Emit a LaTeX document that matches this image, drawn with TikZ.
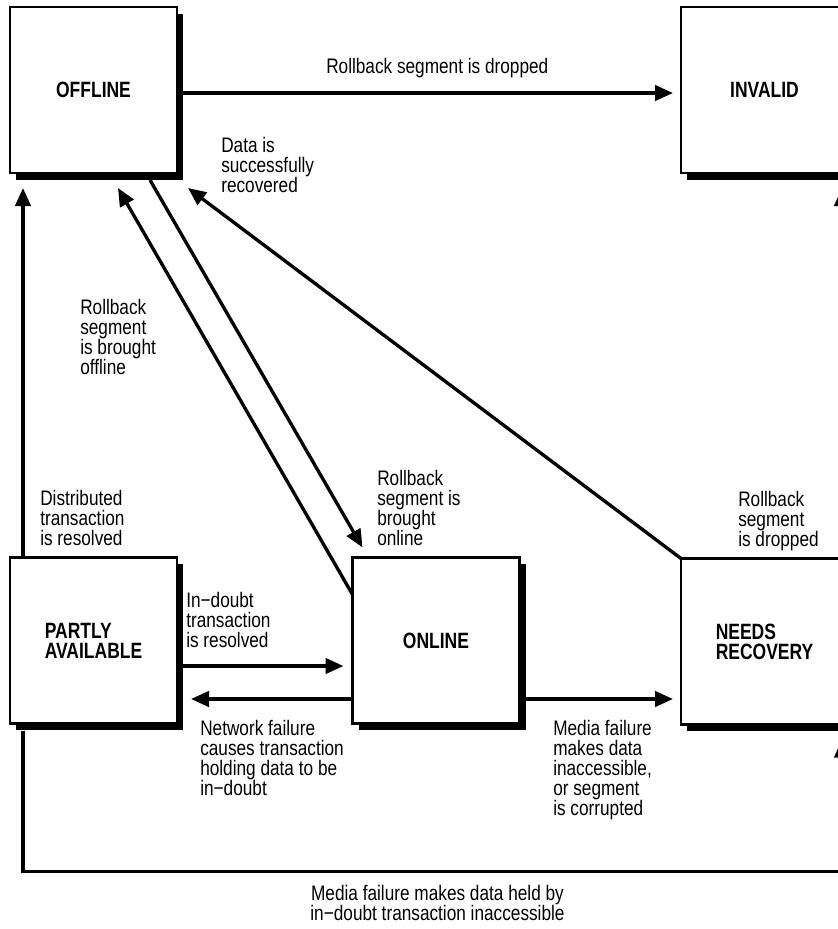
\documentclass[tikz,border=0pt]{standalone}
\usepackage{fontspec}
\setmainfont{Liberation Sans}[FakeStretch=0.82]
\newfontfamily\boxfont{Liberation Sans}[FakeStretch=0.79]
\usetikzlibrary{arrows.meta,calc,shadows}
\begin{document}
\begin{tikzpicture}[x=0.75pt,y=-0.75pt,
  statebox/.style={draw, line width=1.8pt, fill=white, outer sep=0pt,
    minimum width=125.25pt, minimum height=124.5pt, align=left,
    font=\boxfont\bfseries\fontsize{16.6pt}{15pt}\selectfont,
    general shadow={fill=black, shadow xshift=4.8pt, shadow yshift=-5.2pt}},
  lbl/.style={inner sep=0pt, anchor=north west, align=left,
    font=\fontsize{15.75pt}{15pt}\selectfont},
  arr/.style={line width=2.5pt, -{Triangle[length=13.5pt,width=11.5pt]}},
]
\useasboundingbox (0,0) rectangle (838,929);
\clip (0,0) rectangle (838,929);

% states
\node[statebox] (offline) at (93.5,90) {OFFLINE};
\node[statebox] (invalid) at (764.5,90) {INVALID};
\node[statebox] (partly) at (93.5,640.5) {PARTLY\\AVAILABLE};
\node[statebox] (online) at (436,640.5) {ONLINE};
\node[statebox] (needs) at (764.5,641.5) {NEEDS\\RECOVERY};

% transitions
\draw[arr] ($(offline.east)+(6,3)$) -- ($(invalid.west)+(-8,3)$);
\draw[arr] ($(partly.north west)+(13,0)$) -- ($(offline.south west)+(13,15)$);
\draw[arr] ($(offline.south west)+(140,7)$) -- ($(online.north west)+(10,-10)$);
\draw[arr] ($(online.north west)+(0,37)$) -- ($(offline.south west)+(108,15)$);
\draw[arr] (needs.north west) -- ($(offline.south east)+(11,15)$);
\draw[arr] ($(partly.east)+(6,25.5)$) -- ($(online.west)+(-9,25.5)$);
\draw[arr] ($(online.west)+(0,58.5)$) -- ($(partly.east)+(14,58.5)$);
\draw[arr] ($(online.east)+(6,58.5)$) -- ($(needs.west)+(-8,57.5)$);
\draw[arr] ($(partly.south west)+(13,7)$) |- ($(needs.south west)+(161,147)$)
  -- ($(needs.south west)+(161,15)$);
\draw[arr] ($(needs.north west)+(161,0)$) -- ($(invalid.south west)+(161,15)$);

% transition labels
\node[lbl] (tdrop) at (326,58) {Rollback segment is dropped};
\node[lbl] (trecov) at (221,137) {Data is\\successfully\\recovered};
\node[lbl] (toff) at (80,299) {Rollback\\segment\\is brought\\offline};
\node[lbl] (tdist) at (40,490) {Distributed\\transaction\\is resolved};
\node[lbl] (ton) at (377,470) {Rollback\\segment is\\brought\\online};
\node[lbl] (tdrop2) at (738,491) {Rollback\\segment\\is dropped};
\node[lbl] (tindoubt) at (186,592) {In−doubt\\transaction\\is resolved};
\node[lbl] (tnet) at (200,720) {Network failure\\causes transaction\\holding data to be\\in−doubt};
\node[lbl] (tmedia) at (553,720) {Media failure\\makes data\\inaccessible,\\or segment\\is corrupted};
\node[lbl, anchor=north, align=center] (tbottom) at (437.5,885)
  {Media failure makes data held by\\in−doubt transaction inaccessible};
\end{tikzpicture}
\end{document}
